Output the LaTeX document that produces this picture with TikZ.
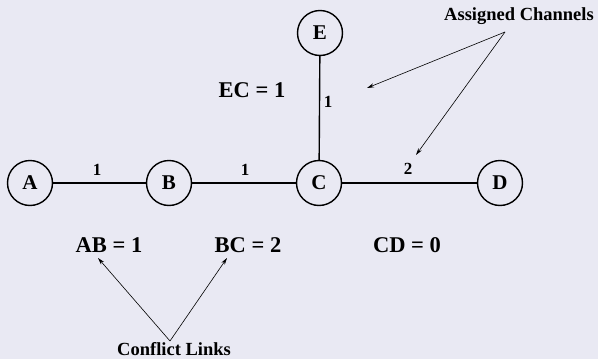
\documentclass[tikz,border=0pt]{standalone}
\usepackage{fontspec}
\setmainfont{Liberation Serif}
\usetikzlibrary{arrows.meta}
\definecolor{bgcol}{HTML}{E9E9F3}
\tikzset{
  vertex/.style={draw, circle, line width=1.4pt, minimum size=45pt, inner sep=0pt,
    font=\fontsize{21}{24}\selectfont\bfseries},
  link/.style={line width=1.4pt},
  elabel/.style={font=\fontsize{17}{20}\selectfont\bfseries, inner sep=0pt},
  biglabel/.style={font=\fontsize{22.5}{26}\selectfont\bfseries, inner sep=0pt},
  note/.style={font=\fontsize{18.5}{22}\selectfont\bfseries, inner sep=0pt},
  pointer/.style={line width=0.6pt, -{Stealth[length=7pt,width=4pt]}}
}
\begin{document}
\begin{tikzpicture}[x=1pt,y=-1pt]
\fill[bgcol] (0,0) rectangle (598,359);
\useasboundingbox (0,0) rectangle (598,359);
\node[vertex] (A) at (30,183) {A};
\node[vertex] (B) at (169,183) {B};
\node[vertex] (C) at (319,183) {C};
\node[vertex] (D) at (500,183) {D};
\node[vertex] (E) at (320,33) {E};
\draw[link] (A) -- (B);
\draw[link] (B) -- (C);
\draw[link] (C) -- (D);
\draw[link] (E) -- (C);
\node[elabel] (lab) at (97,170) {1};
\node[elabel] (lbc) at (245,170) {1};
\node[elabel] (lcd) at (408,169) {2};
\node[elabel] (lec) at (328,102) {1};
\node[biglabel] (ec) at (252,90) {EC = 1};
\node[biglabel] (ab) at (109,245) {AB = 1};
\node[biglabel] (bc) at (248,245) {BC = 2};
\node[biglabel] (cd) at (407,245) {CD = 0};
\node[note] (ach) at (519,16) {Assigned Channels};
\node[note] (cfl) at (174,349) {Conflict Links};
\coordinate (ach0) at (505,32);
\coordinate (ach1) at (367,88);
\coordinate (ach2) at (416,155);
\coordinate (cfl0) at (170,341);
\coordinate (cfl1) at (98,258);
\coordinate (cfl2) at (227,258);
\draw[pointer] (ach0) -- (ach1);
\draw[pointer] (ach0) -- (ach2);
\draw[pointer] (cfl0) -- (cfl1);
\draw[pointer] (cfl0) -- (cfl2);
\end{tikzpicture}
\end{document}
